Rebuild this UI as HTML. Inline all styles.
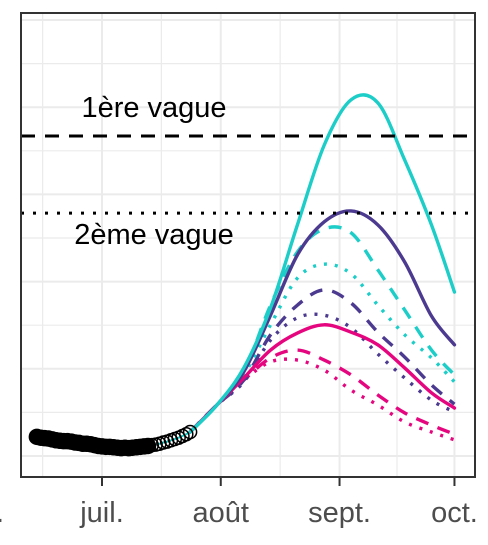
<!DOCTYPE html>
<html><head><meta charset="utf-8"><style>
html,body{margin:0;padding:0;background:#fff;}
svg{display:block;font-family:"Liberation Sans",sans-serif;}
</style></head><body>
<svg id="chart" width="488" height="545" viewBox="0 0 488 545" xmlns="http://www.w3.org/2000/svg">
<g id="grid"></g>
<g id="marks"></g>
<g id="axes"></g>
</svg>
<script>
// days since June 1
const tickDays = [0, 30, 61, 92, 122];
const tickLabels = ["juin.", "juil.", "août", "sept.", "oct."];
const refValues = [734, 557];
const refLabels = ["1ère vague", "2ème vague"];
const obsDays = [13,14,15,16,17,18,19,20,21,22,23,24,25,26,27,28,29,30,31,32,33,34,35,36,37,38,39,40,41,42,43,44,45,46,47,48,49,50,51,52,53];
const obsValues = [44,42,41,40,38,36,35,34,34,33,31,30,28,28,27,25,23,22,21,21,20,19,18,19,18,19,20,21,22,23,25,26,28,31,33,36,39,42,46,50,55];
const projDays = [53,60,67,74,81,88,95,102,109,116,122];
const cyanSolid   = [55,117,202,340,530,713,817,810,679,530,376];
const cyanDashed  = [55,117,193,346,468,521,512,427,335,243,186];
const cyanDotted  = [55,117,186,301,408,440,418,346,278,225,170];
const purpleSolid = [55,117,193,323,461,537,562,530,445,321,255];
const purpleDashed= [55,117,174,278,346,381,351,284,227,163,119];
const purpleDotted= [55,117,170,266,317,323,294,234,179,128,101];
const magentaSolid= [55,117,179,243,282,301,284,255,202,145,110];
const magentaDashed=[55,117,174,225,243,220,186,140,99,71,50];
const magentaDotted=[55,117,174,216,220,197,151,117,78,55,37];

const NS="http://www.w3.org/2000/svg";
const L=21,R=475,T=13,B=477;
const xs=d=>102+(d-30)*(118/30.8);
const ys=v=>456-v*43.6/100;
function mk(tag,attrs,parent){const e=document.createElementNS(NS,tag);for(const k in attrs)e.setAttribute(k,attrs[k]);parent.appendChild(e);return e;}
const grid=document.getElementById('grid'),marks=document.getElementById('marks'),axes=document.getElementById('axes');
mk('rect',{x:L,y:T,width:R-L,height:B-T,fill:'#fff'},grid);
for(let k=0;k<=10;k++){const y=456-k*43.6;const g=mk('line',{x1:L,x2:R,y1:y,y2:y,stroke:'#ebebeb','stroke-width':k%2?1.2:2},grid);

}
const minor=[14.5,45.5,76.5,107];
tickDays.forEach(d=>{const x=xs(d);if(x>L){const g=mk('line',{x1:x,x2:x,y1:T,y2:B,stroke:'#ebebeb','stroke-width':2},grid);

}});
minor.forEach(d=>{const x=xs(d);const g=mk('line',{x1:x,x2:x,y1:T,y2:B,stroke:'#ebebeb','stroke-width':1.2},grid);

});

function smooth(days,vals){const p=days.map((d,i)=>[xs(d),ys(vals[i])]);let s=`M${p[0][0]},${p[0][1]}`;
for(let i=0;i<p.length-1;i++){const p0=p[i-1]||p[i],p1=p[i],p2=p[i+1],p3=p[i+2]||p2;
s+=` C${p1[0]+(p2[0]-p0[0])/6},${p1[1]+(p2[1]-p0[1])/6} ${p2[0]-(p3[0]-p1[0])/6},${p2[1]-(p3[1]-p1[1])/6} ${p2[0]},${p2[1]}`;}return s;}
const C='#1ccdc8',P='#4b3a8f',M='#e5067f';
const series=[[magentaDotted,M,'3 8','magenta-dotted'],[magentaDashed,M,'13 10','magenta-dashed'],[purpleDotted,P,'3 8','purple-dotted'],[purpleDashed,P,'13 10','purple-dashed'],[cyanDotted,C,'3 8','cyan-dotted'],[cyanDashed,C,'13 10','cyan-dashed'],[magentaSolid,M,'','magenta-solid'],[purpleSolid,P,'','purple-solid'],[cyanSolid,C,'','cyan-solid']];
series.forEach(([v,c,da,n])=>{const e=mk('path',{d:smooth(projDays,v),fill:'none',stroke:c,'stroke-width':3.4,'stroke-dasharray':da,'stroke-linecap':da?'butt':'round'},marks);

});
// observed points
const cl=mk('path',{d:smooth(obsDays.slice(28),obsValues.slice(28)),fill:'none',stroke:C,'stroke-width':2},marks);


obsDays.forEach((d,i)=>{const filled=d<43;const c=mk('circle',{cx:xs(d),cy:ys(obsValues[i]),r:filled?7.5:6.5,fill:filled?'#000':'none',stroke:'#000','stroke-width':1.5},marks);

});
// reference lines
refValues.forEach((v,i)=>{const e=mk('line',{x1:L,x2:R,y1:ys(v),y2:ys(v),stroke:'#000','stroke-width':3,'stroke-dasharray':i?'3 9':'14 10'},marks);


const t=mk('text',{x:154,y:i?ys(v)+31:ys(v)-19,'font-size':29,'text-anchor':'middle',fill:'#000'},marks);t.textContent=refLabels[i];

});
const fr=mk('rect',{x:L,y:T,width:R-L,height:B-T,fill:'none',stroke:'#333','stroke-width':2},axes);


tickDays.forEach((d,i)=>{const x=xs(d);if(x>L){const tk=mk('line',{x1:x,x2:x,y1:B,y2:B+9,stroke:'#333','stroke-width':2},axes);

}
const t=mk('text',{x:x>L?x:4,y:522,'font-size':29,'text-anchor':x>L?'middle':'end',fill:'#4d4d4d'},axes);t.textContent=tickLabels[i];

});
</script>
</body></html>
